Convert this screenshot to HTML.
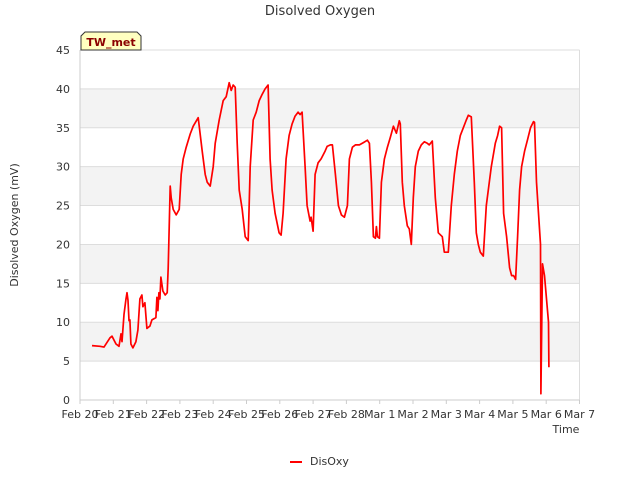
<!DOCTYPE html>
<html><head><meta charset="utf-8"><style>
body{margin:0;background:#fff;font-family:"Liberation Sans","DejaVu Sans",sans-serif;}
svg text{font-family:"DejaVu Sans","Liberation Sans",sans-serif;}
</style></head><body>
<svg id="chart" width="640" height="480" viewBox="0 0 640 480">
<rect x="0" y="0" width="640" height="480" fill="#fff"/>
<g id="grid"></g>
<g id="axes"></g>
<text x="320" y="15" text-anchor="middle" font-size="13" fill="#333">Disolved Oxygen</text>
<text transform="translate(18,225) rotate(-90)" text-anchor="middle" font-size="11" fill="#333">Disolved Oxygen (mV)</text>
<text x="566" y="433" text-anchor="middle" font-size="11" fill="#333">Time</text>
<g>
<path d="M81,50 L81,36 L85,32 L137,32 L141,36 L141,50 Z" fill="#ffffc0" stroke="#333" stroke-width="1"/>
<text x="111" y="46" text-anchor="middle" font-size="11" font-weight="bold" fill="#8b0000">TW_met</text>
</g>
<g id="series"></g>
<g>
<line x1="290" y1="462" x2="302" y2="462" stroke="#f00" stroke-width="2"/>
<text x="310" y="465" font-size="11" fill="#333">DisOxy</text>
</g>
</svg>
<script>
const xTickLabels=["Feb 20","Feb 21","Feb 22","Feb 23","Feb 24","Feb 25","Feb 26","Feb 27","Feb 28","Mar 1","Mar 2","Mar 3","Mar 4","Mar 5","Mar 6","Mar 7"];
const yTicks=[0,5,10,15,20,25,30,35,40,45];
const times=[0.36,0.60,0.72,0.90,0.96,1.08,1.17,1.23,1.26,1.32,1.38,1.41,1.44,1.47,1.50,1.53,1.59,1.68,1.74,1.80,1.86,1.89,1.95,2.01,2.10,2.16,2.28,2.31,2.34,2.37,2.40,2.43,2.49,2.56,2.62,2.65,2.71,2.74,2.80,2.89,2.98,3.04,3.10,3.19,3.31,3.40,3.55,3.67,3.76,3.82,3.91,4.00,4.06,4.18,4.30,4.39,4.48,4.54,4.60,4.66,4.72,4.78,4.87,4.96,5.05,5.11,5.20,5.29,5.38,5.47,5.56,5.65,5.71,5.77,5.86,5.98,6.04,6.10,6.19,6.28,6.37,6.46,6.55,6.61,6.67,6.76,6.82,6.91,6.94,7.00,7.06,7.15,7.24,7.36,7.42,7.52,7.58,7.67,7.76,7.85,7.94,8.03,8.09,8.18,8.27,8.39,8.51,8.63,8.69,8.75,8.81,8.87,8.90,8.93,8.99,9.05,9.14,9.23,9.32,9.41,9.50,9.59,9.62,9.68,9.74,9.83,9.89,9.95,10.01,10.07,10.16,10.25,10.34,10.43,10.49,10.58,10.67,10.76,10.88,10.94,11.06,11.15,11.24,11.33,11.42,11.51,11.60,11.66,11.75,11.84,11.90,11.96,12.02,12.11,12.20,12.29,12.35,12.41,12.47,12.54,12.60,12.66,12.72,12.81,12.90,12.96,13.02,13.08,13.14,13.20,13.26,13.35,13.44,13.53,13.62,13.65,13.71,13.77,13.83,13.84,13.89,13.95,14.01,14.07,14.08];
const values=[7.0,6.9,6.8,8.0,8.2,7.2,6.9,8.5,7.5,11,13,13.8,12.8,10.2,10.3,7.2,6.7,7.5,9,13,13.5,12,12.5,9.2,9.5,10.3,10.6,13.2,11.5,13.8,13,15.8,14,13.5,13.8,17,27.5,26,24.5,23.8,24.5,29,31,32.5,34.2,35.2,36.3,32,29,28,27.5,30,33,36,38.5,39,40.8,39.8,40.5,40.2,33,27,24.5,21,20.5,30,36,37,38.5,39.3,40,40.5,31,27,24,21.5,21.2,24,31,34,35.5,36.5,37,36.7,37,30,25,23,23.5,21.7,29,30.5,31,32,32.6,32.8,32.8,29,25,23.8,23.5,25,31,32.5,32.8,32.8,33.1,33.4,33,28,21,20.8,22.3,21,20.8,28,31,32.5,33.8,35.2,34.3,35.9,35.5,28,25,22.4,22,20,26,30,32,32.8,33.2,33,32.8,33.3,26,21.5,21,19,19,25,29,32,34,35,36,36.6,36.4,28,21.5,20,19,18.5,25,28,30,31.5,33,34,35.2,35,24,21,17,16,16,15.5,21,27,30,32,33.5,35,35.8,35.7,28,24,20,0.8,17.5,16,13,10,4.2];
const X0=80,X1=579.5,Y0=400,Y1=50,DAYS=15,YMAX=45;
const xs=d=>X0+(X1-X0)*d/DAYS;
const ys=v=>Y0-(Y0-Y1)*v/YMAX;
const NS="http://www.w3.org/2000/svg";
const grid=document.getElementById('grid'),axes=document.getElementById('axes'),series=document.getElementById('series');
function mk(tag,attrs,parent){const e=document.createElementNS(NS,tag);for(const k in attrs)e.setAttribute(k,attrs[k]);parent.appendChild(e);return e;}
for(let i=0;i<yTicks.length-1;i++){
  if(i%2===0){const b=mk('rect',{x:X0,y:ys(yTicks[i+1]),width:X1-X0,height:ys(yTicks[i])-ys(yTicks[i+1]),fill:(i/2)%2===0?'#fff':'#f3f3f3'},grid);}
}
for(let i=0;i<yTicks.length-1;i++){
  const b=mk('rect',{x:X0,y:ys(yTicks[i+1]),width:X1-X0,height:ys(yTicks[i])-ys(yTicks[i+1]),fill:(i%2===1)?'#f3f3f3':'#fff'},grid);
  
  
}
yTicks.forEach(v=>{
  const l=mk('line',{x1:X0,x2:X1,y1:ys(v),y2:ys(v),stroke:'#ddd','stroke-width':1},grid);
  
  
  const t=mk('text',{x:X0-10,y:ys(v)+4,'text-anchor':'end','font-size':11,fill:'#333'},axes);
  t.textContent=v;
  
  
});
mk('line',{x1:X0,x2:X0,y1:Y1,y2:Y0,stroke:'#ccc'},axes);
mk('line',{x1:X1,x2:X1,y1:Y1,y2:Y0,stroke:'#ddd'},axes);
mk('line',{x1:X0,x2:X1,y1:Y0,y2:Y0,stroke:'#ccc'},axes);
xTickLabels.forEach((s,i)=>{
  const x=xs(i);
  mk('line',{x1:x,x2:x,y1:Y0,y2:Y0+4,stroke:'#ccc'},axes);
  const t=mk('text',{x:x,y:Y0+18,'text-anchor':'middle','font-size':11,fill:'#333'},axes);
  t.textContent=s;
  
  
});
const p=mk('polyline',{points:times.map((d,i)=>xs(d).toFixed(1)+','+ys(values[i]).toFixed(1)).join(' '),fill:'none',stroke:'#f00','stroke-width':1.7,'stroke-linejoin':'round'},series);


</script>
</body></html>
